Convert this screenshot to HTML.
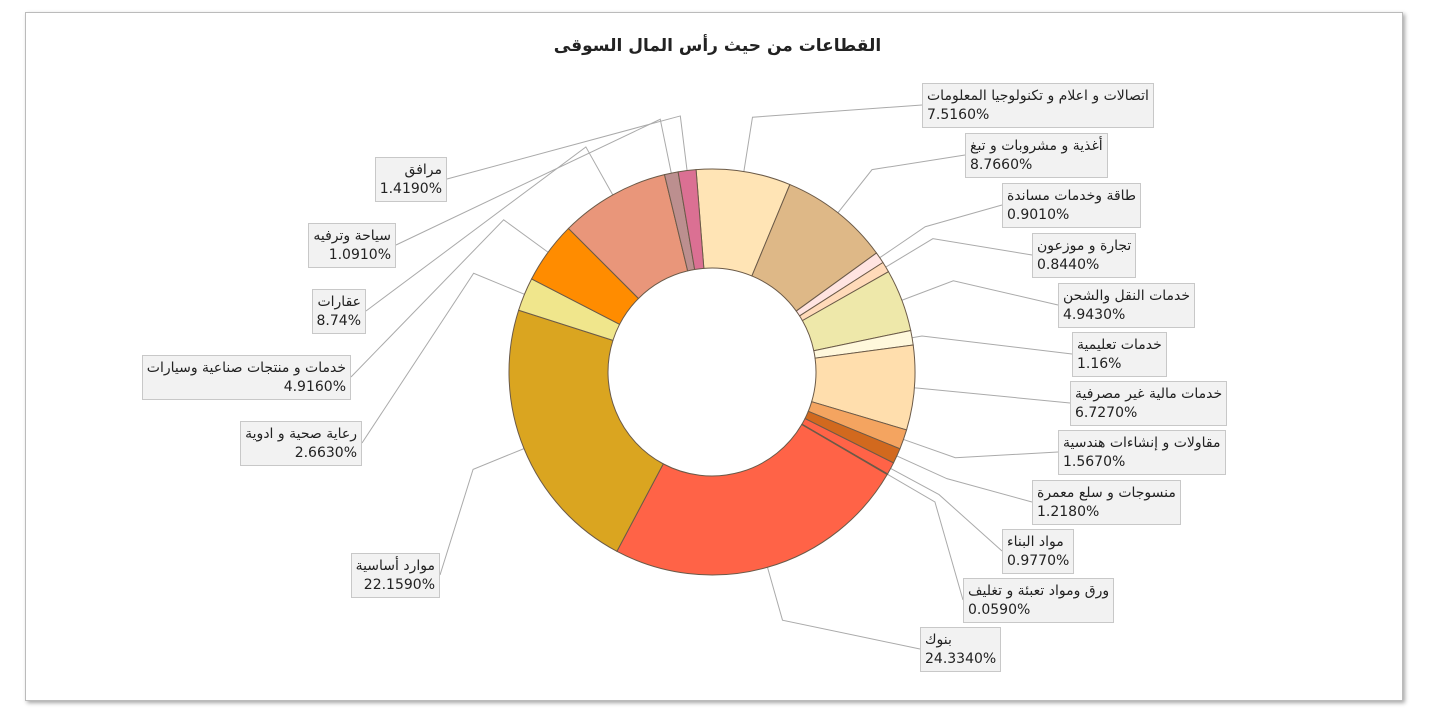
<!DOCTYPE html>
<html><head><meta charset="utf-8">
<style>
body{margin:0;background:#fff;width:1435px;height:719px;overflow:hidden;font-family:"Liberation Sans","Noto Sans CJK SC",sans-serif}
#frame{position:absolute;left:25px;top:12px;width:1376px;height:687px;border:1px solid #bbb;box-shadow:2px 2px 4px rgba(0,0,0,.35);background:#fff}
#title{position:absolute;left:0;width:1435px;top:36px;text-align:center;font-size:17px;font-weight:bold;color:#222;font-family:"DejaVu Sans",sans-serif}
.lbl{position:absolute;background:#f2f2f2;border:1px solid #c8c8c8;font-size:14px;line-height:19px;padding:3px 4px;color:#222;white-space:nowrap;font-family:"DejaVu Sans",sans-serif;box-sizing:border-box;height:45px}
svg{position:absolute;left:0;top:0}
</style></head>
<body>
<div id="frame"></div>
<div id="title">القطاعات من حيث رأس المال السوقى</div>
<svg id="chart" width="1435" height="719"></svg>
<div id="labels"></div>
<script>
const categories=["اتصالات و  اعلام و تكنولوجيا المعلومات","أغذية و مشروبات و تبغ","طاقة وخدمات مساندة","تجارة و موزعون","خدمات النقل والشحن","خدمات تعليمية","خدمات مالية غير مصرفية","مقاولات و إنشاءات هندسية","منسوجات و سلع معمرة","مواد البناء","ورق ومواد تعبئة و تغليف","بنوك","موارد أساسية","رعاية صحية و ادوية","خدمات و منتجات صناعية وسيارات","عقارات","سياحة وترفيه","مرافق"];
const values=[7.516,8.766,0.901,0.844,4.943,1.16,6.727,1.567,1.218,0.977,0.059,24.334,22.159,2.663,4.916,8.74,1.091,1.419];
const valueLabels=["7.5160%","8.7660%","0.9010%","0.8440%","4.9430%","1.16%","6.7270%","1.5670%","1.2180%","0.9770%","0.0590%","24.3340%","22.1590%","2.6630%","4.9160%","8.74%","1.0910%","1.4190%"];
const colors=["#FFE4B5","#DEB887","#FFE4E1","#FFDAB9","#EEE8AA","#FFF8DC","#FFDEAD","#F4A460","#D2691E","#FF6347","#A0522D","#FF6347","#DAA520","#F0E68C","#FF8C00","#E9967A","#BC8F8F","#DB7093"];
// layout (label box positions)
const boxes=[[922,83,"r"],[965,133,"r"],[1002,183,"r"],[1032,233,"r"],[1058,283,"r"],[1072,332,"r"],[1070,381,"r"],[1058,430,"r"],[1032,480,"r"],[1002,529,"r"],[963,578,"r"],[920,627,"r"],[440,553,"l"],[362,421,"l"],[351,355,"l"],[366,289,"l"],[396,223,"l"],[447,157,"l"]];
const ext=[55,55,55,55,55,10,5,55,55,55,55,55,55,55,55,55,55,55];
const cx=712,cy=372,R=203,r0=104,start=-4.5;
const svg=document.getElementById('chart');
const NS="http://www.w3.org/2000/svg";
const total=values.reduce((a,b)=>a+b,0);
function ang(v){return (start+v/total*360)*Math.PI/180;}
function pt(a,rad){return [cx+rad*Math.sin(a),cy-rad*Math.cos(a)];}
let acc=0;
const lines=document.createElementNS(NS,'g');svg.appendChild(lines);
values.forEach((v,i)=>{
  const a0=ang(acc),a1=ang(acc+v);acc+=v;
  const p1=pt(a0,R),p2=pt(a1,R),p3=pt(a1,r0),p4=pt(a0,r0);
  const large=(a1-a0)>Math.PI?1:0;
  const d=`M${p1}A${R},${R} 0 ${large} 1 ${p2}L${p3}A${r0},${r0} 0 ${large} 0 ${p4}Z`;
  const path=document.createElementNS(NS,'path');
  path.setAttribute('d',d);path.setAttribute('fill',colors[i]);
  path.setAttribute('stroke','#6b5a48');path.setAttribute('stroke-width','1');
  
  
  svg.appendChild(path);
  const am=(a0+a1)/2;
  const q0=pt(am,R),q1=pt(am,R+ext[i]);
  const b=boxes[i];
  const bx=b[0],by=b[1]+22;
  const pl=document.createElementNS(NS,'polyline');
  pl.setAttribute('points',`${q0} ${q1} ${bx},${by}`);
  pl.setAttribute('fill','none');pl.setAttribute('stroke','#aaa');pl.setAttribute('stroke-width','1');
  
  
  lines.appendChild(pl);
  const div=document.createElement('div');
  div.className='lbl';
  
  
  if(b[2]==='r'){div.style.left=bx+'px';div.style.textAlign='left';}
  else{div.style.right=(1435-bx)+'px';div.style.textAlign='right';}
  div.style.top=b[1]+'px';
  div.innerHTML=`<div dir="rtl" style="text-align:${b[2]==='r'?'left':'right'}">${categories[i]}</div><div>${valueLabels[i]}</div>`;
  document.getElementById('labels').appendChild(div);
});
</script>
</body></html>
